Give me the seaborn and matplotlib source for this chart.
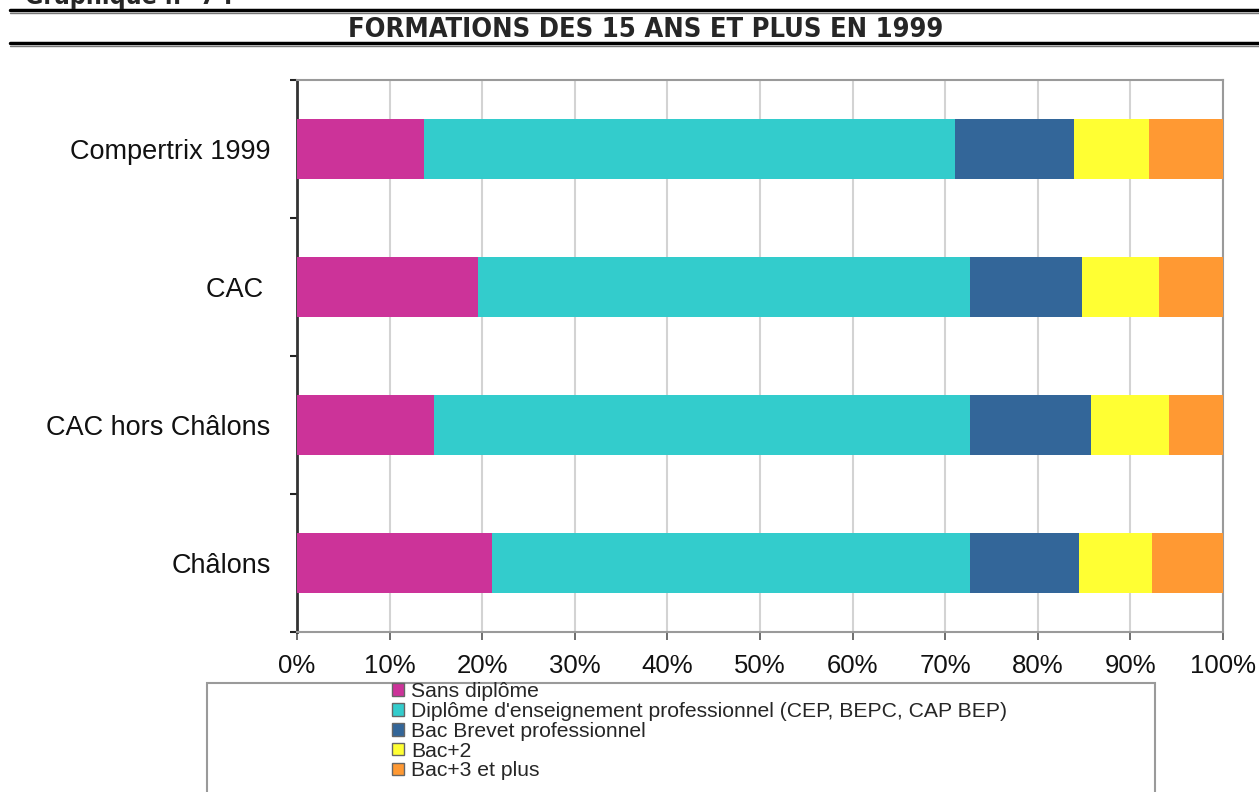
import numpy as np
import pandas as pd
import matplotlib
matplotlib.use("Agg")
import matplotlib.pyplot as plt
from matplotlib.lines import Line2D
from matplotlib.patches import Patch, Rectangle
import seaborn as sns

# donnees (en %)
categories = ["Compertrix 1999", "CAC ", "CAC hors Châlons", "Châlons"]
series = ["Sans diplôme",
          "Diplôme d'enseignement professionnel (CEP, BEPC, CAP BEP)",
          "Bac Brevet professionnel",
          "Bac+2",
          "Bac+3 et plus"]
sans_diplome = [13.7, 19.6, 14.8, 21.1]
diplome_pro = [57.4, 53.1, 57.9, 51.6]
bac_brevet = [12.8, 12.1, 13.0, 11.8]
bac_2 = [8.1, 8.3, 8.5, 7.8]
bac_3 = [8.0, 6.9, 5.8, 7.7]
xticks = list(range(0, 101, 10))
colors = ["#CC3399", "#33CCCC", "#336699", "#FFFF33", "#FF9933"]

sns.set_theme(style="white")
plt.rcParams["font.family"] = ["Liberation Sans", "DejaVu Sans"]

W, H = 1259, 792
fig = plt.figure(figsize=(W / 100, H / 100), dpi=100)
ax = fig.add_axes([297 / W, 1 - 632 / H, (1223 - 297) / W, (632 - 80) / H])

# barres empilees : on trace les cumuls du plus grand au plus petit
values = [sans_diplome, diplome_pro, bac_brevet, bac_2, bac_3]
cum = np.cumsum(values, axis=0)
for i in reversed(range(len(series))):
    d = pd.DataFrame({"zone": categories, "pct": cum[i]})
    sns.barplot(data=d, y="zone", x="pct", color=colors[i], width=0.43,
                saturation=1, orient="h", linewidth=0, ax=ax, zorder=3)

ax.set_xlim(0, 100)
ax.set_xticks(xticks)
ax.set_xticklabels([f"{v}%" for v in xticks], fontsize=18.5)
ax.set_xlabel("")
ax.set_ylabel("")
ax.tick_params(axis="y", which="major", length=0, pad=19, labelsize=19.5,
               labelcolor="#111111")
ax.set_yticks(np.arange(-0.5, len(categories), 1.0), minor=True)
ax.tick_params(axis="y", which="minor", length=5, width=1.5, color="#222222",
               direction="out", left=True)
ax.tick_params(axis="x", length=6, width=1.2, color="#555555", direction="out",
               bottom=True, pad=10, labelcolor="#111111")

ax.set_axisbelow(True)
ax.grid(axis="x", color="#D3D3D3", linewidth=1.5)
for s in ["top", "right", "bottom"]:
    ax.spines[s].set_color("#9A9A9A")
    ax.spines[s].set_linewidth(1.5)
ax.spines["left"].set_color("#333333")
ax.spines["left"].set_linewidth(2)

# titre et filets
fig.text(25 / W, 1 - 4 / H, "Graphique n° 7 :", fontsize=18, fontweight="bold",
         va="baseline", family="DejaVu Sans", fontstretch="condensed")
fig.text(646 / W, 1 - 30 / H, "FORMATIONS DES 15 ANS ET PLUS EN 1999",
         fontsize=19.5, fontweight="bold", ha="center", va="center",
         family="DejaVu Sans", fontstretch="condensed")
for y, lw, c in [(10, 2.5, "black"), (13, 1, "#777777"),
                 (43, 2.5, "black"), (46, 1, "#777777")]:
    fig.add_artist(Line2D([10 / W, 1], [1 - y / H, 1 - y / H], color=c, lw=lw))

# legende
fig.add_artist(Rectangle((207 / W, -0.05), (1155 - 207) / W, 1 - 683 / H + 0.05,
                         transform=fig.transFigure, facecolor="none",
                         edgecolor="#9A9A9A", lw=1.5))
handles = [Patch(facecolor=c, edgecolor="#666666", lw=1) for c in colors]
fig.legend(handles, series, loc="upper left", bbox_to_anchor=(392 / W, 1 - 682 / H),
           frameon=False, fontsize=15.2, labelspacing=0.04, handlelength=0.55,
           handleheight=0.55, handletextpad=0.35, borderpad=0, borderaxespad=0)

fig.savefig("out.png", dpi=100)
